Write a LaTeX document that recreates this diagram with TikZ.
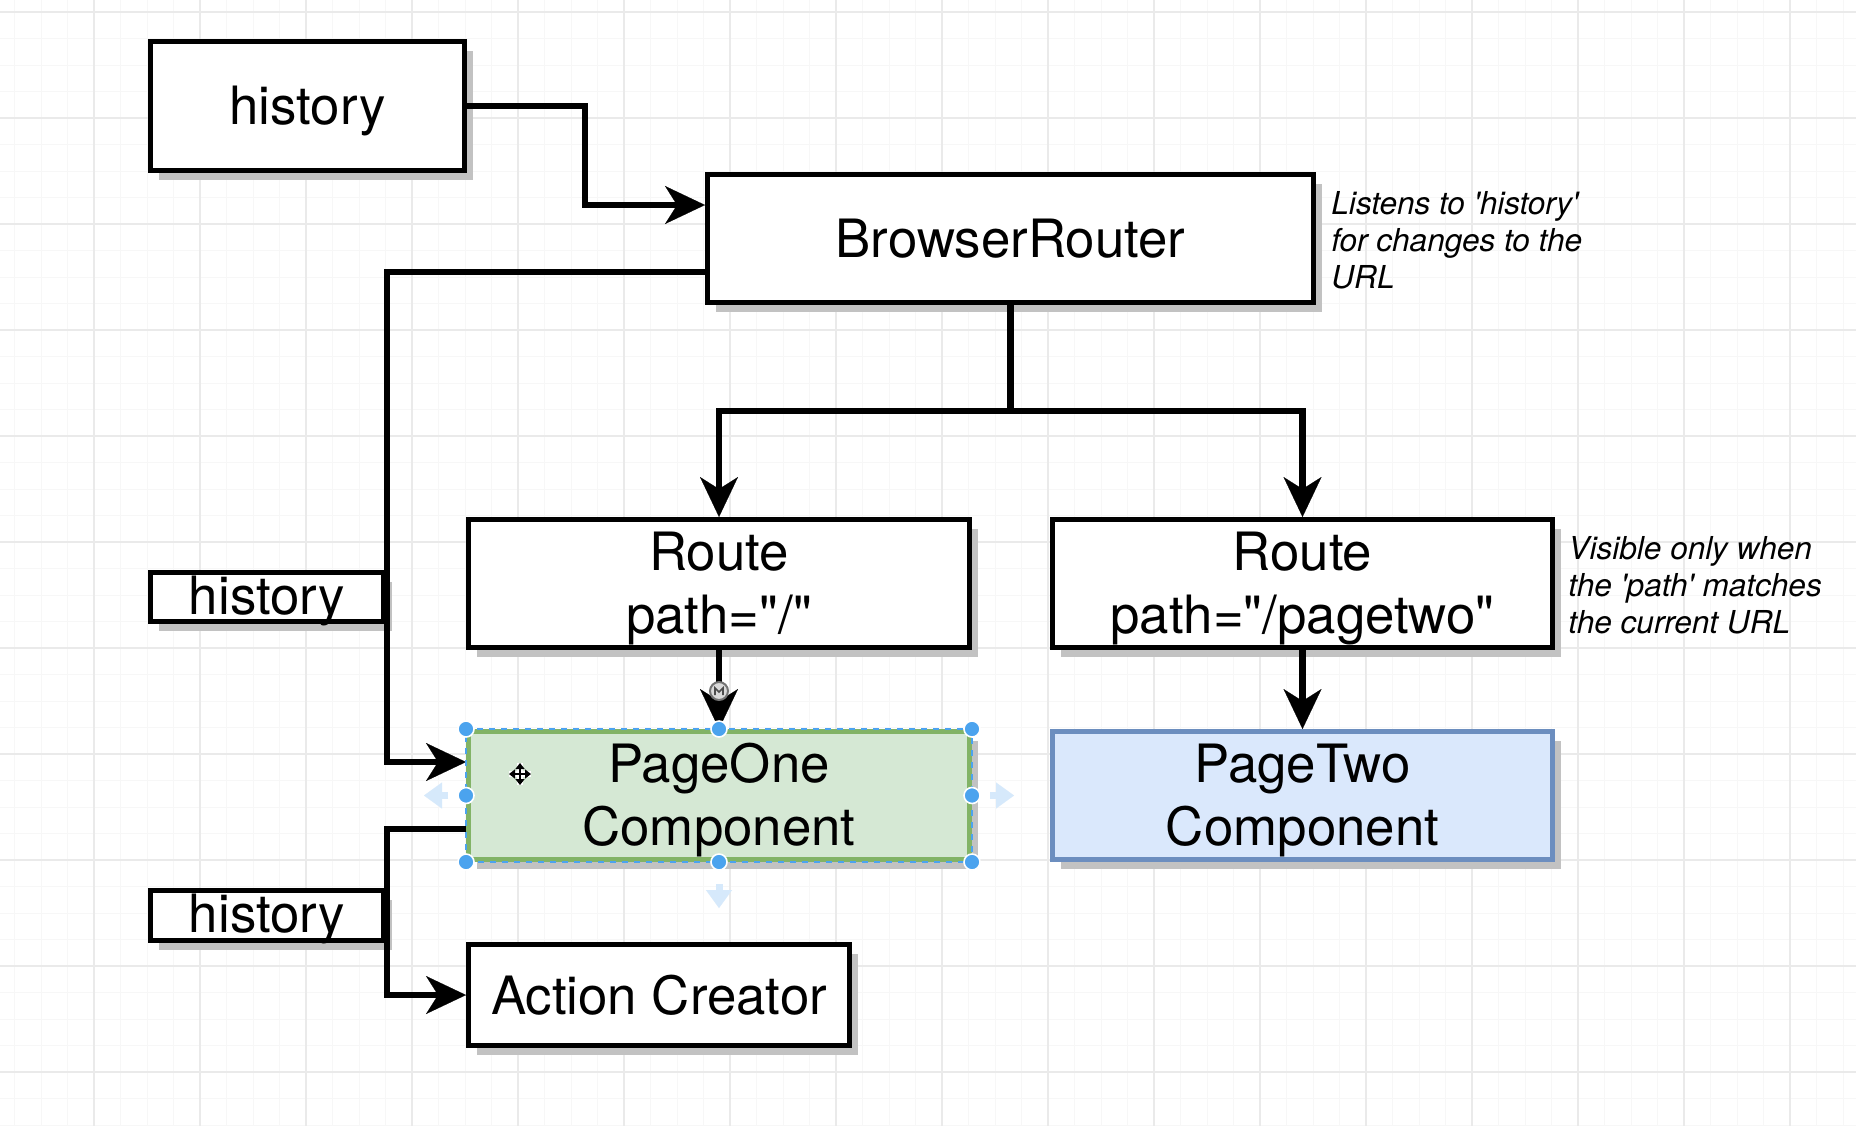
\documentclass[tikz,border=0pt]{standalone}
\usepackage{fontspec}
\setmainfont{TeX Gyre Heros}[Ligatures=TeXOff]
\usetikzlibrary{arrows.meta,shadows}
\definecolor{gridminor}{HTML}{F7F7F7}
\definecolor{gridmajor}{HTML}{EAEAEA}
\definecolor{pgfill}{HTML}{D5E8D4}
\definecolor{pgline}{HTML}{82B366}
\definecolor{pbfill}{HTML}{DAE8FC}
\definecolor{pbline}{HTML}{6C8EBF}
\definecolor{selblue}{HTML}{4BA3EE}
\definecolor{hoverblue}{HTML}{D6E9FB}
\definecolor{shadowgray}{HTML}{C2C2C2}
\newcommand\tpad{\rule{0pt}{24pt}}
\tikzset{
  box/.style={draw=black, line width=2.5pt, fill=white, inner sep=0pt, align=center,
    font=\fontsize{26.4}{31.5}\selectfont,
    drop shadow={shadow xshift=4pt, shadow yshift=-4.5pt, fill=shadowgray, opacity=1}},
  conn/.style={draw=black, line width=3.2pt, line join=miter},
  arrtip/.style={-{Stealth[length=20pt,width=19pt,inset=6pt,line width=0.1pt]}},
  hovertip/.style={draw=hoverblue, line width=3.5pt, -{Triangle[length=9pt,width=13pt,line width=0.1pt]}},
  anno/.style={inner sep=0pt, align=left, anchor=north west, font=\fontsize{15.8}{18.5}\selectfont\itshape},
  handle/.style={fill=selblue, draw=white, line width=0.8pt}
}
\begin{document}
\begin{tikzpicture}[x=0.5pt,y=-0.5pt]
\useasboundingbox (0,0) rectangle (1856,1126);
\fill[white] (0,0) rectangle (1856,1126);
% grid
\foreach \i in {0,...,71} \draw[gridminor, line width=0.5pt] ({-12+26.5*\i},0) -- ({-12+26.5*\i},1126);
\foreach \j in {0,...,43} \draw[gridminor, line width=0.5pt] (0,{-14.5+26.5*\j}) -- (1856,{-14.5+26.5*\j});
\foreach \i in {0,...,18} \draw[gridmajor, line width=0.6pt] ({-12+106*\i},0) -- ({-12+106*\i},1126);
\foreach \j in {0,...,11} \draw[gridmajor, line width=0.6pt] (0,{12+106*\j}) -- (1856,{12+106*\j});

% nodes
\node[box, minimum width=157pt, minimum height=64.5pt, text height=24pt, text depth=5.5pt] (hist1) at (307.5,106) {history};
\node[box, minimum width=303pt, minimum height=64pt] (br) at (1010.5,238.5) {BrowserRouter};
\node[box, minimum width=250.5pt, minimum height=64pt] (r1) at (719,583.5) {\tpad Route\\path="/"};
\node[box, minimum width=250pt, minimum height=64pt] (r2) at (1302.5,583.5) {\tpad Route\\path="/pagetwo"};
\node[box, fill=pgfill, draw=pgline, minimum width=250.5pt, minimum height=64pt] (p1) at (719,795.5) {\tpad PageOne\\Component};
\node[box, fill=pbfill, draw=pbline, minimum width=250pt, minimum height=64pt] (p2) at (1302.5,795.5) {\tpad PageTwo\\Component};
\node[box, minimum width=116.5pt, minimum height=24.5pt, text height=20.8pt, text depth=3.7pt] (hist2) at (267,597) {history};
\node[box, minimum width=116.5pt, minimum height=25pt, text height=20.8pt, text depth=3.7pt] (hist3) at (267,915.5) {history};
\node[box, minimum width=190.5pt, minimum height=50.5pt] (act) at (659,995) {Action Creator};

% annotations
\node[anno] (note1) at (1331,191) {Listens to 'history'\\for changes to the\\URL};
\node[anno] (note2) at (1568,536) {Visible only when\\the 'path' matches\\the current URL};

% connector points
\coordinate (j1) at (585,205);
\coordinate (j2) at (387,272);
\coordinate (j3) at (387,762);
\coordinate (j4) at (387,829);
\coordinate (bus) at (0,411);

% connectors
\draw[conn, arrtip] (hist1.east) -| (j1) -- (br.west |- j1);
\draw[conn, arrtip] (br.west |- j2) -- (j2) -- (j3) -- (p1.west |- j3);
\draw[conn, arrtip] (p1.west |- j4) -- (j4) |- (act.west);
\draw[conn, arrtip] (br.south) -- (br.south |- bus) -| (r1.north);
\draw[conn, arrtip] (br.south) -- (br.south |- bus) -| (r2.north);
\draw[conn, arrtip] (r1.south) -- (p1.north);
\draw[conn, arrtip] (r2.south) -- (p2.north);

% selection overlay on PageOne
\draw[selblue, line width=1pt, dash pattern=on 3pt off 3pt] (p1.south west) rectangle (p1.north east);
\foreach \a in {north west,north,north east,west,east,south west,south,south east}
  \filldraw[handle] (p1.\a) circle (4pt);
% hover arrows
\draw[hovertip] ([xshift=-9pt]p1.west) -- ++(-24,0);
\draw[hovertip] ([xshift=9pt]p1.east) -- ++(24,0);
\draw[hovertip] ([yshift=-11pt]p1.south) -- ++(0,24);
% move cursor
\begin{scope}[shift={(520,774)}]
  \draw[white, line width=2.6pt] (-11,0) -- (11,0) (0,-11) -- (0,11);
  \draw[black, line width=1.1pt, {Triangle[length=3pt,width=4.5pt]}-{Triangle[length=3pt,width=4.5pt]}] (-11,0) -- (11,0);
  \draw[black, line width=1.1pt, {Triangle[length=3pt,width=4.5pt]}-{Triangle[length=3pt,width=4.5pt]}] (0,-11) -- (0,11);
\end{scope}
% icon on arrow
\draw[black!55, line width=1pt, fill=black!15] (719,691) circle (4.5pt);
\draw[black!70, line width=0.8pt] (715,695) -- (715,688) -- (719,692) -- (723,688) -- (723,695);
\end{tikzpicture}
\end{document}
